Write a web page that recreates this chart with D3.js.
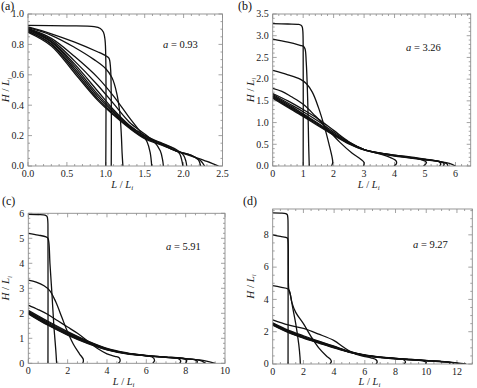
<!DOCTYPE html>
<html>
<head>
<meta charset="utf-8">
<script src="https://cdn.jsdelivr.net/npm/d3@7"></script>
<style>
  body { margin: 0; background: #fff; }
</style>
</head>
<body>
<svg id="chart" width="477" height="388" font-family="Liberation Serif, DejaVu Serif, serif"></svg>
<script>
// profiles H/Li vs L/Li, one array of [x, y] per snapshot
const curvesA = [
  [[0,0.925],[0.5,0.922],[0.85,0.917],[0.93,0.905],[0.97,0.88],[0.99,0.83],[1.0,0.7],[1.0,0]],
  [[0,0.915],[0.3,0.87],[0.6,0.815],[0.9,0.75],[1.0,0.725],[1.04,0.71],[1.06,0.65],[1.07,0.45],[1.07,0]],
  [[0,0.91],[0.3,0.86],[0.6,0.78],[0.85,0.7],[1.0,0.64],[1.08,0.58],[1.14,0.48],[1.18,0.35],[1.2,0.2],[1.21,0.08],[1.22,0]],
  [[0,0.905],[0.3,0.84],[0.6,0.72],[0.9,0.58],[1.1,0.46],[1.3,0.32],[1.45,0.22],[1.53,0.16],[1.57,0.09],[1.59,0]],
  [[0,0.9],[0.3,0.83],[0.6,0.69],[0.9,0.53],[1.1,0.41],[1.3,0.29],[1.5,0.21],[1.62,0.16],[1.7,0.1],[1.73,0.04],[1.74,0]],
  [[0,0.9],[0.3,0.82],[0.6,0.67],[0.9,0.49],[1.1,0.37],[1.3,0.27],[1.5,0.2],[1.7,0.15],[1.85,0.12],[1.95,0.08],[1.98,0.03],[1.99,0]],
  [[0,0.895],[0.3,0.815],[0.6,0.655],[0.9,0.47],[1.1,0.36],[1.3,0.265],[1.5,0.2],[1.7,0.155],[1.9,0.11],[2.0,0.07],[2.03,0.03],[2.04,0]],
  [[0,0.89],[0.3,0.805],[0.6,0.64],[0.9,0.455],[1.1,0.35],[1.3,0.26],[1.5,0.19],[1.7,0.15],[1.9,0.1],[2.1,0.07],[2.19,0.04],[2.22,0]],
  [[0,0.885],[0.3,0.8],[0.6,0.625],[0.9,0.44],[1.1,0.34],[1.3,0.255],[1.5,0.185],[1.7,0.145],[1.9,0.1],[2.1,0.07],[2.22,0.035],[2.27,0]],
  [[0,0.88],[0.3,0.79],[0.6,0.61],[0.9,0.43],[1.1,0.335],[1.3,0.25],[1.5,0.18],[1.7,0.14],[1.9,0.1],[2.1,0.065],[2.3,0.03],[2.45,0]]
];

const curvesB = [
  [[0,3.28],[0.5,3.27],[0.85,3.26],[0.93,3.24],[0.97,3.2],[0.99,3.1],[1.0,2.8],[1.0,0]],
  [[0,2.92],[0.5,2.85],[0.9,2.78],[1.0,2.76],[1.06,2.7],[1.1,2.4],[1.15,1.5],[1.18,0.5],[1.2,0]],
  [[0,2.2],[0.5,2.1],[0.9,2.0],[1.1,1.9],[1.3,1.7],[1.5,1.35],[1.7,0.9],[1.85,0.5],[1.95,0.2],[1.97,0.08],[1.93,0]],
  [[0,1.79],[0.3,1.72],[0.6,1.6],[1.0,1.42],[1.4,1.15],[1.8,0.85],[2.2,0.55],[2.6,0.3],[2.9,0.15],[3.0,0.08],[2.98,0]],
  [[0,1.67],[0.5,1.5],[1,1.3],[1.5,1.08],[2,0.82],[2.5,0.56],[3,0.38],[3.5,0.28],[3.85,0.2],[4.05,0.12],[4.06,0.05],[3.98,0]],
  [[0,1.65],[0.5,1.45],[1,1.25],[1.5,1.03],[2,0.78],[2.5,0.55],[3,0.38],[3.5,0.3],[4,0.25],[4.5,0.2],[4.9,0.14],[5.05,0.08],[4.95,0]],
  [[0,1.62],[0.5,1.42],[1,1.2],[1.5,0.98],[2,0.75],[2.5,0.54],[3,0.38],[3.5,0.3],[4,0.25],[4.5,0.21],[5,0.16],[5.45,0.1],[5.52,0.05],[5.48,0]],
  [[0,1.6],[0.5,1.39],[1,1.18],[1.5,0.96],[2,0.73],[2.5,0.53],[3,0.38],[3.5,0.3],[4,0.24],[4.5,0.2],[5,0.15],[5.5,0.1],[5.63,0.05],[5.6,0]],
  [[0,1.58],[0.5,1.37],[1,1.16],[1.5,0.94],[2,0.72],[2.5,0.52],[3,0.37],[3.5,0.29],[4,0.24],[4.5,0.19],[5,0.15],[5.5,0.1],[5.72,0.05],[5.75,0]],
  [[0,1.56],[0.5,1.35],[1,1.14],[1.5,0.92],[2,0.71],[2.5,0.51],[3,0.37],[3.5,0.29],[4,0.23],[4.5,0.19],[5,0.14],[5.5,0.1],[5.8,0.06],[6.0,0]]
];

const curvesC = [
  [[0,5.96],[0.5,5.95],[0.85,5.93],[0.95,5.88],[0.99,5.7],[1.0,5.2],[1.0,0]],
  [[0,5.2],[0.5,5.13],[0.9,5.06],[1.0,5.0],[1.05,4.8],[1.1,4.0],[1.2,2.8],[1.3,1.5],[1.4,0.5],[1.44,0]],
  [[0,3.33],[0.4,3.25],[0.8,3.1],[1.1,2.9],[1.4,2.45],[1.7,1.85],[2.0,1.25],[2.3,0.75],[2.6,0.38],[2.8,0.15],[2.77,0]],
  [[0,2.33],[0.5,2.15],[1,1.95],[1.5,1.7],[2,1.45],[2.5,1.2],[3,0.9],[3.5,0.6],[4,0.38],[4.4,0.28],[4.62,0.22],[4.67,0.1],[4.58,0]],
  [[0,2.12],[1,1.68],[2,1.27],[3,0.9],[4,0.6],[5,0.42],[5.8,0.32],[6.3,0.25],[6.42,0.12],[6.33,0]],
  [[0,2.08],[1,1.64],[2,1.24],[3,0.88],[4,0.58],[5,0.41],[6,0.32],[7,0.25],[7.6,0.2],[7.75,0.1],[7.7,0]],
  [[0,2.05],[1,1.6],[2,1.2],[3,0.86],[4,0.57],[5,0.4],[6,0.31],[7,0.25],[7.8,0.2],[8.05,0.12],[8.0,0]],
  [[0,2.02],[1,1.57],[2,1.18],[3,0.84],[4,0.56],[5,0.4],[6,0.31],[7,0.25],[8,0.19],[8.5,0.13],[8.6,0.06],[8.55,0]],
  [[0,2.0],[1,1.54],[2,1.15],[3,0.82],[4,0.55],[5,0.39],[6,0.3],[7,0.24],[8,0.18],[8.8,0.1],[9.0,0]],
  [[0,1.98],[1,1.52],[2,1.13],[3,0.8],[4,0.54],[5,0.38],[6,0.3],[7,0.24],[8,0.18],[9,0.1],[9.5,0]]
];

const curvesD = [
  [[0,9.36],[0.5,9.35],[0.85,9.32],[0.95,9.25],[0.99,9.0],[1.0,8.5],[1.0,0]],
  [[0,8.0],[0.5,7.9],[0.95,7.8],[1.0,7.6],[1.02,6.0],[1.05,4.6],[1.15,4.3],[1.3,3.5],[1.5,2.5],[1.7,1.2],[1.78,0.4],[1.8,0]],
  [[0,4.85],[0.5,4.76],[1.0,4.65],[1.1,4.5],[1.25,3.8],[1.5,3.2],[2.0,2.5],[2.5,1.7],[3.0,1.0],[3.5,0.5],[3.75,0.3],[3.82,0.15],[3.72,0]],
  [[0,2.73],[1,2.42],[2,2.2],[3,1.85],[4,1.45],[4.6,1.05],[5.2,0.7],[5.8,0.5],[6.4,0.38],[6.75,0.25],[6.8,0.1],[6.72,0]],
  [[0,2.55],[1,2.1],[2,1.75],[3,1.42],[4,1.1],[5,0.78],[6,0.56],[7,0.43],[8,0.35],[8.5,0.28],[8.65,0.12],[8.55,0]],
  [[0,2.5],[1,2.05],[2,1.7],[3,1.38],[4,1.08],[5,0.76],[6,0.55],[7,0.42],[8,0.34],[9,0.28],[9.8,0.2],[10.0,0.1],[9.95,0]],
  [[0,2.48],[1,2.02],[2,1.67],[3,1.36],[4,1.06],[5,0.75],[6,0.54],[7,0.42],[8,0.34],[9,0.28],[10,0.22],[11,0.16],[11.5,0.1],[11.55,0]],
  [[0,2.45],[1,2.0],[2,1.65],[3,1.34],[4,1.04],[5,0.74],[6,0.53],[7,0.41],[8,0.33],[9,0.27],[10,0.21],[11,0.15],[11.7,0.08],[11.8,0]],
  [[0,2.43],[1,1.98],[2,1.63],[3,1.32],[4,1.02],[5,0.73],[6,0.53],[7,0.41],[8,0.33],[9,0.27],[10,0.21],[11,0.15],[12,0.06],[12.2,0]],
  [[0,2.4],[1,1.95],[2,1.6],[3,1.3],[4,1.0],[5,0.72],[6,0.52],[7,0.4],[8,0.32],[9,0.26],[10,0.2],[11,0.14],[12,0.07],[12.6,0]]
];

const xTicksA = [0, 0.5, 1, 1.5, 2, 2.5];
const yTicksA = [0, 0.2, 0.4, 0.6, 0.8, 1.0];
const xTicksB = [0, 1, 2, 3, 4, 5, 6];
const yTicksB = [0, 0.5, 1, 1.5, 2, 2.5, 3, 3.5];
const xTicksC = [0, 2, 4, 6, 8, 10];
const yTicksC = [0, 1, 2, 3, 4, 5, 6];
const xTicksD = [0, 2, 4, 6, 8, 10, 12];
const yTicksD = [0, 2, 4, 6, 8];

const panelLabels = ["(a)", "(b)", "(c)", "(d)"];
const aspectRatios = ["0.93", "3.26", "5.91", "9.27"];

const panels = [
  { curves: curvesA, xd: [0, 2.5], yd: [0, 1], xt: xTicksA, yt: yTicksA, xm: 0.1, ym: 0.05, fx: ".1f", fy: ".1f",
    box: [28, 14, 222.5, 166], lab: [1, 10], ann: [163, 48] },
  { curves: curvesB, xd: [0, 6.5], yd: [0, 3.5], xt: xTicksB, yt: yTicksB, xm: 0.2, ym: 0.1, fx: "d", fy: ".1f",
    box: [272.7, 14, 470.7, 166], lab: [238, 10], ann: [406, 51] },
  { curves: curvesC, xd: [0, 10], yd: [0, 6], xt: xTicksC, yt: yTicksC, xm: 0.5, ym: 0.2, fx: "d", fy: "d",
    box: [28.3, 213.3, 225, 363.3], lab: [2, 205], ann: [166, 250] },
  { curves: curvesD, xd: [0, 13], yd: [0, 9.6], xt: xTicksD, yt: yTicksD, xm: 0.5, ym: 0.5, fx: "d", fy: "d",
    box: [272.7, 209, 472.3, 364], lab: [243, 205], ann: [413, 248] }
];

const svg = d3.select("#chart");
const frameColor = "#8c8c8c";

panels.forEach((p, i) => {
  const [x0, y0, x1, y1] = p.box;
  const x = d3.scaleLinear().domain(p.xd).range([x0, x1]);
  const y = d3.scaleLinear().domain(p.yd).range([y1, y0]);
  const g = svg.append("g");

  const minorX = d3.range(p.xd[0], p.xd[1] + 1e-9, p.xm);
  const minorY = d3.range(p.yd[0], p.yd[1] + 1e-9, p.ym);

  // inward ticks on all four sides
  const tickG = g.append("g").attr("stroke", frameColor).attr("stroke-width", 0.8);
  const isMajor = (v, list) => list.some(t => Math.abs(t - v) < 1e-6);
  minorX.forEach(v => {
    const len = isMajor(v, p.xt) ? 4 : 2;
    tickG.append("line").attr("x1", x(v)).attr("x2", x(v)).attr("y1", y1).attr("y2", y1 - len);
    tickG.append("line").attr("x1", x(v)).attr("x2", x(v)).attr("y1", y0).attr("y2", y0 + len);
  });
  minorY.forEach(v => {
    const len = isMajor(v, p.yt) ? 4 : 2;
    tickG.append("line").attr("y1", y(v)).attr("y2", y(v)).attr("x1", x0).attr("x2", x0 + len);
    tickG.append("line").attr("y1", y(v)).attr("y2", y(v)).attr("x1", x1).attr("x2", x1 - len);
  });

  const clipId = "clip" + i;
  g.append("clipPath").attr("id", clipId)
    .append("rect").attr("x", x0).attr("y", y0 - 1).attr("width", x1 - x0).attr("height", y1 - y0 + 1);

  const line = d3.line()
    .x(d => x(d[0]))
    .y(d => y(d[1]))
    .curve(d3.curveCatmullRom.alpha(0.5));

  g.append("g").attr("clip-path", `url(#${clipId})`)
    .selectAll("path")
    .data(p.curves)
    .join("path")
    .attr("d", line)
    .attr("fill", "none")
    .attr("stroke", "#111")
    .attr("stroke-width", 1.3)
    .attr("stroke-linejoin", "round");

  g.append("rect")
    .attr("x", x0).attr("y", y0)
    .attr("width", x1 - x0).attr("height", y1 - y0)
    .attr("fill", "none").attr("stroke", frameColor).attr("stroke-width", 0.9);

  // tick labels
  const fx = d3.format(p.fx), fy = d3.format(p.fy);
  g.append("g").selectAll("text").data(p.xt).join("text")
    .attr("x", d => x(d)).attr("y", y1 + 10.5)
    .attr("text-anchor", "middle").attr("font-size", 10).attr("fill", "#222")
    .text(d => fx(d));
  g.append("g").selectAll("text").data(p.yt).join("text")
    .attr("x", x0 - 4).attr("y", d => y(d) + 3.3)
    .attr("text-anchor", "end").attr("font-size", 10).attr("fill", "#222")
    .text(d => fy(d));

  // axis titles
  const xt = g.append("text")
    .attr("x", (x0 + x1) / 2 - 3).attr("y", Math.min(y1 + 22, 385))
    .attr("text-anchor", "middle").attr("font-size", 10.5).attr("fill", "#222");
  xt.append("tspan").attr("font-style", "italic").text("L");
  xt.append("tspan").text(" / ");
  xt.append("tspan").attr("font-style", "italic").text("L");
  xt.append("tspan").attr("font-size", 7).attr("dy", 2).attr("font-style", "italic").text("i");

  const yt = g.append("text")
    .attr("transform", `translate(${x0 - 19},${(y0 + y1) / 2}) rotate(-90)`)
    .attr("text-anchor", "middle").attr("font-size", 11).attr("fill", "#222");
  yt.append("tspan").attr("font-style", "italic").text("H");
  yt.append("tspan").text(" / ");
  yt.append("tspan").attr("font-style", "italic").text("L");
  yt.append("tspan").attr("font-size", 7).attr("dy", 2.5).attr("font-style", "italic").text("i");

  // panel letter and aspect ratio
  svg.append("text").attr("x", p.lab[0]).attr("y", p.lab[1])
    .attr("font-size", 12).attr("fill", "#111").text(panelLabels[i]);
  const an = svg.append("text").attr("x", p.ann[0]).attr("y", p.ann[1])
    .attr("font-size", 10.5).attr("fill", "#111");
  an.append("tspan").attr("font-style", "italic").text("a");
  an.append("tspan").text(" = " + aspectRatios[i]);
});
</script>
</body>
</html>
